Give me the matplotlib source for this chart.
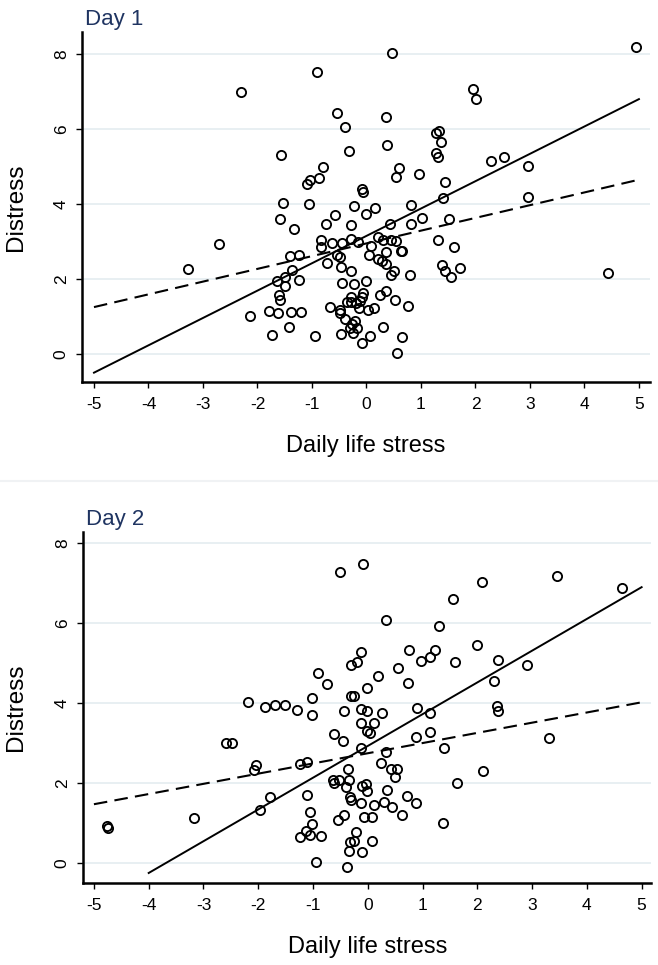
"""
Distress vs daily life stress, two days, scatter + two fit lines each.
Output: out.png (658 x 965 px)
"""

import matplotlib
matplotlib.use("Agg")
import matplotlib.pyplot as plt
from matplotlib.lines import Line2D

plt.rcParams["font.family"] = ["Liberation Sans", "DejaVu Sans"]

# ── data ─────────────────────────────────────────────────────────────────────

DAY1_X = [
    0.47, -0.91, -2.31, 1.96, 2.01, -0.54, 0.36, -0.40, 1.28, 1.33,
    1.37, 0.37, -0.32, 1.27, 1.31, -1.56, -0.80, 0.59, 0.54, 0.97,
    -0.88, -1.03, -1.09, 1.45, -0.09, -0.07, 1.41, -1.54, -1.05, -0.23,
    0.15, 0.81, 0.00, -0.57, -1.58, 1.01, -0.75, -0.28, 0.43, 0.82,
    1.52, -1.33, -0.83, -0.83, -0.64, -0.45, -0.29, -0.16, 0.09, 0.22,
    0.31, 0.45, 0.54, 0.63, 0.65, 1.31, 1.61, -1.41, -1.24, -0.54,
    -0.48, 0.04, 0.35, -0.73, -0.46, 0.21, 0.28, 0.36, 1.38, 1.44,
    1.71, 1.56, -1.36, -1.49, -1.64, -1.50, -1.24, -0.28, 0.50, 0.45,
    0.80, -0.44, -0.23, 0.00, 0.36, -1.60, -1.58, -0.07, -0.09, -0.29,
    -0.35, -0.28, -0.20, -0.12, 0.24, 0.53, -0.67, -0.49, -0.48, -0.14,
    0.02, 0.13, 0.76, -2.14, -1.79, -1.62, -1.38, -1.21, -0.39, -0.21,
    -0.27, -0.18, -0.31, -1.43, 0.31, -1.74, -0.94, -0.46, -0.25, 0.06,
    0.65, -0.09, 0.56, -3.27, -2.71, 4.94, 2.29, 2.53, 2.97, 2.97,
    4.43,
]
DAY1_Y = [
    8.04, 7.52, 7.00, 7.08, 6.81, 6.43, 6.31, 6.06, 5.90, 5.95,
    5.66, 5.57, 5.42, 5.35, 5.26, 5.31, 5.00, 4.96, 4.72, 4.79,
    4.70, 4.64, 4.53, 4.60, 4.40, 4.31, 4.15, 4.04, 3.99, 3.96,
    3.90, 3.97, 3.73, 3.72, 3.60, 3.64, 3.46, 3.43, 3.47, 3.48,
    3.59, 3.33, 3.03, 2.85, 2.97, 2.97, 3.06, 3.00, 2.89, 3.13,
    3.04, 3.03, 3.01, 2.76, 2.74, 3.03, 2.85, 2.62, 2.63, 2.65,
    2.58, 2.63, 2.71, 2.44, 2.33, 2.54, 2.48, 2.41, 2.36, 2.21,
    2.28, 2.05, 2.24, 2.04, 1.94, 1.82, 1.97, 2.21, 2.22, 2.11,
    2.10, 1.88, 1.86, 1.95, 1.69, 1.56, 1.44, 1.62, 1.51, 1.53,
    1.38, 1.38, 1.35, 1.40, 1.56, 1.43, 1.24, 1.16, 1.10, 1.22,
    1.17, 1.23, 1.28, 1.00, 1.15, 1.10, 1.11, 1.12, 0.94, 0.88,
    0.80, 0.68, 0.69, 0.73, 0.72, 0.50, 0.47, 0.52, 0.56, 0.48,
    0.45, 0.29, 0.03, 2.27, 2.93, 8.20, 5.14, 5.25, 5.01, 4.19,
    2.15,
]

DAY2_X = [
    -0.09, -0.51, 1.56, 0.34, 1.30, 2.00, -0.13, 0.76, 1.23, 1.13,
    0.97, 1.59, -0.30, -0.19, 0.55, -0.91, 0.19, -0.74, 0.74, -0.01,
    -0.31, -0.25, -1.02, -2.18, -1.87, -1.70, -1.51, -1.30, -1.02, -0.44,
    -0.13, -0.02, 0.26, 0.89, 1.13, -0.13, 0.12, -0.02, 0.04, -0.61,
    -0.45, 0.88, 1.14, 1.39, -0.12, 0.34, -2.04, -2.07, -1.23, -1.11,
    0.25, -0.37, 0.43, 0.53, 0.50, -0.64, -0.61, -0.52, -0.35, -0.40,
    -0.10, -0.03, -0.02, 0.36, 1.62, 0.71, 0.88, -1.79, -1.96, -1.11,
    -0.33, -0.30, -0.13, 0.12, 0.29, 0.45, 0.63, -1.06, -0.43, -0.55,
    -0.07, 0.07, -1.02, 1.38, -1.13, -1.23, -1.05, -0.86, -0.21, -0.33,
    -0.25, 0.08, -0.34, -0.11, -0.95, -0.38,
    3.46, 4.64, 2.09, 2.38, 2.91, 2.31, 2.36, 2.38, 3.31, 2.10,
    -4.77, -4.74, -3.17, -2.58, -2.48,
]
DAY2_Y = [
    7.49, 7.29, 6.60, 6.07, 5.94, 5.45, 5.28, 5.34, 5.34, 5.16,
    5.06, 5.04, 4.95, 5.03, 4.88, 4.76, 4.68, 4.48, 4.51, 4.38,
    4.18, 4.17, 4.12, 4.03, 3.89, 3.95, 3.95, 3.83, 3.69, 3.81,
    3.86, 3.80, 3.76, 3.88, 3.76, 3.49, 3.49, 3.29, 3.24, 3.23,
    3.05, 3.16, 3.28, 2.87, 2.88, 2.78, 2.44, 2.33, 2.48, 2.53,
    2.51, 2.34, 2.34, 2.34, 2.16, 2.07, 2.01, 2.07, 2.08, 1.90,
    1.93, 1.98, 1.81, 1.83, 2.00, 1.68, 1.51, 1.66, 1.33, 1.69,
    1.66, 1.58, 1.51, 1.44, 1.53, 1.40, 1.19, 1.28, 1.19, 1.07,
    1.15, 1.16, 0.98, 0.99, 0.79, 0.66, 0.71, 0.68, 0.77, 0.53,
    0.55, 0.56, 0.30, 0.28, 0.02, -0.11,
    7.17, 6.89, 7.04, 5.08, 4.95, 4.56, 3.93, 3.80, 3.12, 2.30,
    0.93, 0.88, 1.13, 2.99, 2.99,
]

# fit lines: (x start, x end), (y start, y end)
DAY1_SOLID_X = [-5, 5]
DAY1_SOLID_Y = [-0.50, 6.80]
DAY1_DASH_X = [-5, 5]
DAY1_DASH_Y = [1.25, 4.65]

DAY2_SOLID_X = [-4, 5]
DAY2_SOLID_Y = [-0.25, 6.90]
DAY2_DASH_X = [-5, 5]
DAY2_DASH_Y = [1.47, 4.02]

X_TICKS = [-5, -4, -3, -2, -1, 0, 1, 2, 3, 4, 5]
Y_TICKS = [0, 2, 4, 6, 8]

TITLE_COLOR = "#1f3461"
GRID_COLOR = "#e6eef1"


# ── panel helper ─────────────────────────────────────────────────────────────

def panel(ax, title, xs, ys, solid, dash, xlim, ylim, ylab_x):
    ax.set_axisbelow(True)
    ax.yaxis.grid(True, color=GRID_COLOR, lw=1.3)
    ax.xaxis.grid(False)

    ax.plot(xs, ys, ls="none", marker="o", ms=6.6, mfc="none",
            mec="black", mew=1.35, zorder=3)
    ax.plot(solid[0], solid[1], color="black", lw=1.4, zorder=4)
    ax.plot(dash[0], dash[1], color="black", lw=1.5, zorder=4,
            dashes=(6.5, 3.5))

    ax.set_xlim(*xlim)
    ax.set_ylim(*ylim)
    ax.set_xticks(X_TICKS)
    ax.set_xticklabels([f"{v}" for v in X_TICKS])
    ax.set_yticks(Y_TICKS)
    ax.set_yticklabels([f"{v}" for v in Y_TICKS], rotation=90, va="center")

    ax.spines[["top", "right"]].set_visible(False)
    for s in ("left", "bottom"):
        ax.spines[s].set_linewidth(1.8)
    ax.tick_params(direction="out", length=4.5, width=1.0, labelsize=12.5)
    ax.tick_params(axis="x", pad=6)
    ax.tick_params(axis="y", pad=5)

    ax.set_xlabel("Daily life stress", fontsize=17)
    ax.set_ylabel("Distress", fontsize=17.5)
    ax.xaxis.set_label_coords(0.5, -0.152)
    ax.yaxis.set_label_coords(ylab_x, 0.5)
    ax.set_title(title, loc="left", color=TITLE_COLOR, fontsize=16, pad=5,
                 x=0.006)


def main():
    fig = plt.figure(figsize=(6.58, 9.65), dpi=100)

    ax1 = fig.add_axes([0.1246, 0.6041, 0.863, 0.3627])
    ax2 = fig.add_axes([0.1261, 0.0850, 0.864, 0.3637])

    panel(ax1, "Day 1", DAY1_X, DAY1_Y,
          (DAY1_SOLID_X, DAY1_SOLID_Y), (DAY1_DASH_X, DAY1_DASH_Y),
          (-5.22, 5.2), (-0.75, 8.59), -0.097)
    panel(ax2, "Day 2", DAY2_X, DAY2_Y,
          (DAY2_SOLID_X, DAY2_SOLID_Y), (DAY2_DASH_X, DAY2_DASH_Y),
          (-5.2, 5.18), (-0.5, 8.28), -0.099)

    # faint separator between the two panels
    fig.add_artist(Line2D([0.0, 1.0], [1 - 481 / 965, 1 - 481 / 965],
                          transform=fig.transFigure, color="#f0f2f4", lw=1.5))

    fig.savefig("out.png", dpi=100)
    plt.close(fig)


if __name__ == "__main__":
    main()
